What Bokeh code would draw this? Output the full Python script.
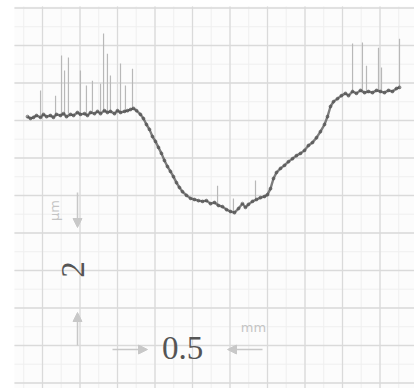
import numpy as np
from bokeh.plotting import figure
from bokeh.models import Range1d, Arrow, NormalHead, ColumnDataSource
from bokeh.core.properties import value
from bokeh.embed import file_html
from bokeh.resources import INLINE

# ---- data: surface profile (x in mm, height in µm) ----
trace_x = [0.18, 0.20, 0.22, 0.24, 0.267, 0.287, 0.307, 0.333, 0.353, 0.373,
           0.40, 0.42, 0.44, 0.467, 0.487, 0.513, 0.533, 0.56, 0.58, 0.60,
           0.627, 0.647, 0.667, 0.693, 0.713, 0.733, 0.76, 0.78, 0.80, 0.827,
           0.847, 0.867, 0.887, 0.907, 0.933, 0.953, 0.973, 0.993, 1.013, 1.033,
           1.053, 1.073, 1.093, 1.113, 1.133, 1.153, 1.173, 1.193, 1.213, 1.24,
           1.267, 1.293, 1.32, 1.347, 1.373, 1.40, 1.427, 1.453, 1.48, 1.507,
           1.533, 1.56, 1.587, 1.613, 1.633, 1.653, 1.68, 1.707, 1.733, 1.76,
           1.78, 1.80, 1.82, 1.84, 1.867, 1.893, 1.92, 1.947, 1.973, 2.00,
           2.027, 2.053, 2.08, 2.107, 2.133, 2.16, 2.18, 2.20, 2.22, 2.247,
           2.273, 2.30, 2.32, 2.347, 2.373, 2.40, 2.427, 2.453, 2.48, 2.507,
           2.533, 2.56, 2.587, 2.613, 2.64, 2.66]
trace_y = [7.25, 7.20, 7.23, 7.28, 7.23, 7.31, 7.25, 7.28, 7.23, 7.31,
           7.28, 7.33, 7.25, 7.31, 7.28, 7.36, 7.31, 7.33, 7.28, 7.36,
           7.33, 7.39, 7.33, 7.41, 7.36, 7.39, 7.33, 7.41, 7.36, 7.39,
           7.41, 7.44, 7.47, 7.41, 7.31, 7.20, 7.04, 6.91, 6.72, 6.59,
           6.43, 6.27, 6.08, 5.92, 5.79, 5.65, 5.49, 5.36, 5.25, 5.15,
           5.07, 5.04, 5.01, 4.99, 5.01, 4.93, 4.96, 4.88, 4.85, 4.77,
           4.72, 4.69, 4.80, 4.93, 4.83, 4.91, 4.99, 5.04, 5.09, 5.12,
           5.17, 5.33, 5.60, 5.76, 5.87, 5.95, 6.05, 6.13, 6.21, 6.27,
           6.35, 6.48, 6.56, 6.69, 6.85, 7.04, 7.25, 7.52, 7.65, 7.73,
           7.81, 7.87, 7.81, 7.92, 7.87, 7.95, 7.89, 7.92, 7.89, 7.95,
           7.92, 7.89, 7.95, 7.92, 8.00, 8.03]

# noise spikes: x (mm), bottom and top heights (µm)
spike_x = [0.267, 0.367, 0.407, 0.427, 0.453, 0.533, 0.573, 0.613, 0.667,
           0.687, 0.713, 0.733, 0.80, 0.833, 0.88, 1.447, 1.553, 1.70,
           2.347, 2.413, 2.44, 2.52, 2.54, 2.66]
spike_y0 = [7.28, 7.31, 7.33, 7.31, 7.33, 7.33, 7.33, 7.36, 7.36,
            7.39, 7.39, 7.39, 7.39, 7.41, 7.44, 4.88, 4.69, 5.04,
            7.92, 7.92, 7.89, 7.92, 7.95, 8.03]
spike_y1 = [7.95, 7.81, 8.88, 8.48, 8.83, 8.48, 8.08, 8.21, 8.13,
            9.47, 8.93, 8.35, 8.67, 8.08, 8.53, 5.41, 5.07, 5.55,
            9.20, 9.23, 8.61, 9.09, 8.56, 9.33]

# scale bar labels
scale_x_label = "0.5"
scale_x_unit = "mm"
scale_y_label = "2"
scale_y_unit = "µm"

W, H = 414, 388
PX_PER_MM = 150.0
PX_PER_UM = 37.5
XMAX = W / PX_PER_MM
YMAX = H / PX_PER_UM

p = figure(width=W, height=H, output_backend="svg", toolbar_location=None,
           x_range=Range1d(0, XMAX), y_range=Range1d(0, YMAX),
           min_border=0, background_fill_color="white",
           border_fill_color="white")
p.axis.visible = False
p.grid.visible = False
p.outline_line_color = None

# ---- graph paper ----
paper_left = 14 / PX_PER_MM
paper_top = (H - 6) / PX_PER_UM
p.quad(left=paper_left, right=XMAX, bottom=0, top=paper_top,
       fill_color="#fcfcfc", line_color=None)

x0 = 42 / PX_PER_MM
y0 = (H - 382.5) / PX_PER_UM
minor_x = np.arange(x0 - 0.25, XMAX, 0.125)
minor_x = minor_x[minor_x > paper_left]
minor_y = np.arange(y0, paper_top, 0.5)
p.multi_line(xs=[[x, x] for x in minor_x], ys=[[0, paper_top]] * len(minor_x),
             line_color="#efefef", line_width=1)
p.multi_line(xs=[[paper_left, XMAX]] * len(minor_y), ys=[[y, y] for y in minor_y],
             line_color="#efefef", line_width=1)
major_x = np.arange(x0, XMAX, 0.25)
major_y = np.arange(y0, paper_top, 1.0)
p.multi_line(xs=[[x, x] for x in major_x], ys=[[0, paper_top]] * len(major_x),
             line_color="#dadada", line_width=1.3)
p.multi_line(xs=[[paper_left, XMAX]] * len(major_y), ys=[[y, y] for y in major_y],
             line_color="#dadada", line_width=1.3)

# ---- profile trace ----
p.segment(x0=spike_x, y0=spike_y0, x1=spike_x, y1=spike_y1,
          line_color="#b8b8b8", line_width=1.2)
p.line(trace_x, trace_y, line_color="#666666", line_width=2.4, line_alpha=0.85)
p.scatter(trace_x, trace_y, size=3, color="#4a4a4a", alpha=0.5)

# ---- scale bars ----
arrow_col = "#c8c8c8"
def arrow(xs, ys, xe, ye):
    p.add_layout(Arrow(end=NormalHead(size=9, fill_color=arrow_col, line_color=arrow_col),
                       x_start=xs, y_start=ys, x_end=xe, y_end=ye,
                       line_color=arrow_col, line_width=1.5))

ax = 77 / PX_PER_MM
arrow(ax, (H - 192) / PX_PER_UM, ax, (H - 227) / PX_PER_UM)
arrow(ax, (H - 345) / PX_PER_UM, ax, (H - 312) / PX_PER_UM)
ay = (H - 349) / PX_PER_UM
arrow(112 / PX_PER_MM, ay, 147 / PX_PER_MM, ay)
arrow(262 / PX_PER_MM, ay, 227 / PX_PER_MM, ay)

lbl = ColumnDataSource(dict(
    x=[182 / PX_PER_MM, 72 / PX_PER_MM],
    y=[(H - 347) / PX_PER_UM, (H - 269) / PX_PER_UM],
    t=[scale_x_label, scale_y_label],
    a=[0.0, np.pi / 2]))
p.text(x="x", y="y", text="t", angle="a", source=lbl,
       text_font=value("Liberation Serif"), text_font_size="33px",
       text_color="#555555", text_align="center", text_baseline="middle")

unit = ColumnDataSource(dict(
    x=[253 / PX_PER_MM, 54 / PX_PER_MM],
    y=[(H - 327) / PX_PER_UM, (H - 210) / PX_PER_UM],
    t=[scale_x_unit, scale_y_unit],
    a=[0.0, np.pi / 2]))
p.text(x="x", y="y", text="t", angle="a", source=unit,
       text_font=value("DejaVu Sans"), text_font_size="13px",
       text_color="#c4c4c4", text_align="center", text_baseline="middle")

open("out.html", "w").write(file_html(p, INLINE))
